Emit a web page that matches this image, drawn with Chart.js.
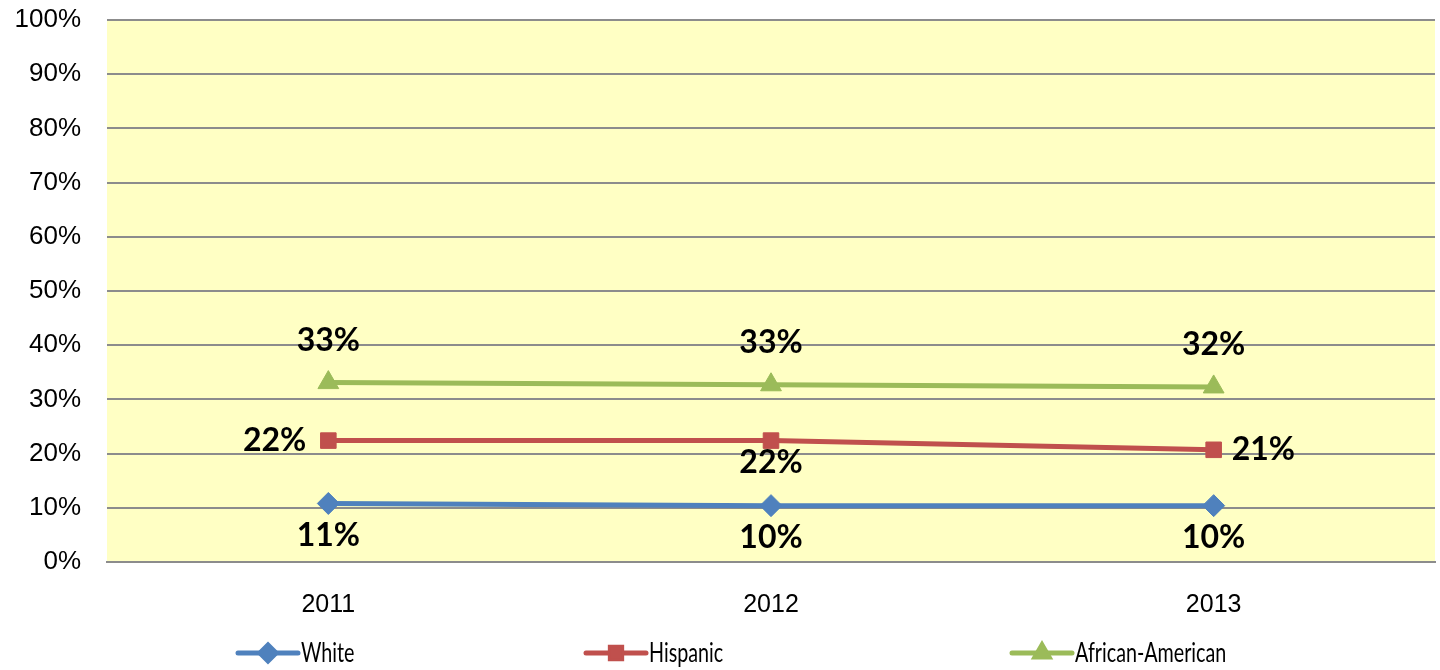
<!DOCTYPE html>
<html>
<head>
<meta charset="utf-8">
<script src="https://cdn.jsdelivr.net/npm/chart.js@4"></script>
<style>
  html, body { margin: 0; padding: 0; background: #fff; }
  #wrap { width: 1440px; height: 670px; }
</style>
</head>
<body>
<div id="wrap"><canvas id="rateChart" width="1440" height="670"></canvas></div>
<script>
const years = ['2011', '2012', '2013'];
const white = [10.8, 10.4, 10.4];
const hispanic = [22.4, 22.4, 20.7];
const africanAmerican = [33.1, 32.7, 32.3];
const yTicks = [0, 10, 20, 30, 40, 50, 60, 70, 80, 90, 100];

// where each value label sits relative to its point
const labelSpots = [
    ['below', 'below', 'below'],
    ['left', 'below', 'right'],
    ['above', 'above', 'above']
];

const plotBg = {
    id: 'plotBg',
    beforeDraw(chart) {
        const { ctx, chartArea: a } = chart;
        ctx.save();
        ctx.fillStyle = '#FFFFC4';
        ctx.fillRect(a.left, a.top, a.right - a.left, a.bottom - a.top);
        ctx.restore();
    }
};

const valueLabels = {
    id: 'valueLabels',
    afterDatasetsDraw(chart) {
        const ctx = chart.ctx;
        ctx.save();
        ctx.font = 'bold 32px Lato';
        ctx.fillStyle = '#000';
        chart.data.datasets.forEach((ds, i) => {
            chart.getDatasetMeta(i).data.forEach((pt, j) => {
                const txt = Math.round(ds.data[j]) + '%';
                const spot = labelSpots[i][j];
                let x = pt.x, y = pt.y;
                ctx.textBaseline = 'middle';
                ctx.textAlign = 'center';
                if (spot === 'above') y -= 42;
                if (spot === 'below') y += (i === 1 ? 22 : 32);
                if (spot === 'left') { ctx.textAlign = 'right'; x -= 22; }
                if (spot === 'right') { ctx.textAlign = 'left'; x += 18; }
                ctx.fillText(txt, x, y);
            });
        });
        ctx.restore();
    }
};

// Excel style legend: short line with the marker on it
const lineLegend = {
    id: 'lineLegend',
    afterDraw(chart) {
        const ctx = chart.ctx;
        const starts = [238, 586, 1012];
        const y = 653;
        ctx.save();
        chart.data.datasets.forEach((ds, i) => {
            const x0 = starts[i];
            ctx.strokeStyle = ds.borderColor;
            ctx.lineWidth = 5;
            ctx.lineCap = 'round';
            ctx.beginPath();
            ctx.moveTo(x0, y);
            ctx.lineTo(x0 + 60, y);
            ctx.stroke();
            Chart.helpers.drawPoint(ctx, {
                pointStyle: ds.pointStyle,
                radius: 8,
                borderWidth: 1
            }, x0 + 30, y);
            ctx.fillStyle = ds.borderColor;
            ctx.fill();
            // condensed text, like the narrow legend font in the original
            ctx.save();
            ctx.translate(x0 + 63, y);
            ctx.scale(0.73, 1);
            ctx.fillStyle = '#000';
            ctx.font = '27px Lato';
            ctx.textAlign = 'left';
            ctx.textBaseline = 'middle';
            ctx.fillText(ds.label, 0, 0);
            ctx.restore();
        });
        ctx.restore();
    }
};

const ctx = document.getElementById('rateChart').getContext('2d');
const rateChart = new Chart(ctx, {
    type: 'line',
    data: {
        labels: years,
        datasets: [{
            label: 'White',
            data: white,
            borderColor: '#4F81BD',
            backgroundColor: '#4F81BD',
            pointStyle: 'rectRot',
            pointRadius: 11
        }, {
            label: 'Hispanic',
            data: hispanic,
            borderColor: '#C0504D',
            backgroundColor: '#C0504D',
            pointStyle: 'rect',
            pointRadius: 11
        }, {
            label: 'African-American',
            data: africanAmerican,
            borderColor: '#9BBB59',
            backgroundColor: '#9BBB59',
            pointStyle: 'triangle',
            pointRadius: 12
        }]
    },
    options: {
        responsive: false,
        animation: false,
        elements: {
            line: { borderWidth: 5, tension: 0 },
            point: { borderWidth: 1, hoverRadius: 11 }
        },
        layout: {
            autoPadding: false,
            padding: 0
        },
        scales: {
            x: {
                offset: true,
                afterFit: s => {
                    s.height = 108;
                    s.paddingLeft = 0;
                    s.paddingRight = 5;
                },
                grid: { display: false },
                border: { display: true, color: '#8C8C8C', width: 2 },
                ticks: {
                    color: '#000',
                    font: { family: 'Liberation Sans', size: 25 },
                    padding: 20
                }
            },
            y: {
                min: 0,
                max: 100,
                afterFit: s => {
                    s.width = 107;
                    s.paddingTop = 20;
                    s.paddingBottom = 0;
                },
                afterBuildTicks: s => { s.ticks = yTicks.map(v => ({ value: v })); },
                grid: { color: '#8C8C8C', lineWidth: 2, drawTicks: false },
                border: { display: false },
                ticks: {
                    color: '#000',
                    font: { family: 'Liberation Sans', size: 26 },
                    padding: 26,
                    callback: v => v + '%'
                }
            }
        },
        plugins: {
            legend: { display: false },
            tooltip: { enabled: false }
        }
    },
    plugins: [plotBg, valueLabels, lineLegend]
});
</script>
</body>
</html>
